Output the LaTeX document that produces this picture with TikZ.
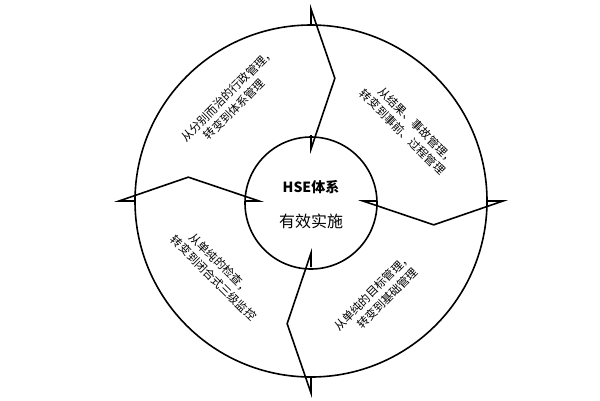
\documentclass[tikz,border=0pt]{standalone}
\usepackage{fontspec}
\newfontfamily\cjk{Noto Sans CJK SC}
\begin{document}
\begin{tikzpicture}[x=1pt,y=-1pt,line width=1.6pt,
  lab/.style={font=\cjk\fontsize{11.5}{15}\selectfont,align=left,inner sep=0pt}]
\useasboundingbox (0,0) rectangle (600,400);
\fill[white] (0,0) rectangle (600,400);
\coordinate (c) at (311,201);
\node[draw,circle,minimum size=352pt,inner sep=0pt] (outer) at (c) {};
\node[draw,circle,minimum size=132pt,inner sep=0pt] (inner) at (311,203) {};
\foreach \t in {90,180,270,0}{
  \draw ([shift={(\t:176)}]c) -- ([shift={(\t:192)}]c) -- ([shift={(\t+11:125)}]c)
        -- ([shift={(\t:52)}]c) -- ([shift={(\t:66)}]c);
}
\node[font=\cjk\bfseries\fontsize{14}{16}\selectfont] (t1) at (311,187) {HSE体系};
\node[font=\cjk\fontsize{16}{18}\selectfont] (t2) at (311,221) {有效实施};
\node[lab,rotate=45] (a) at (233,100) {从分别而治的行政管理，\\\hspace*{1.5em}转变到体系管理};
\node[lab,rotate=-45] (b) at (408,127) {\hspace*{1em}从结果、事故管理，\\转变到事前、过程管理};
\node[lab,rotate=-45] (d) at (219,273) {\hspace*{1em}从单纯的检查，\\转变到闭合式三级监控};
\node[lab,rotate=45] (e) at (378,297) {从单纯的目标管理，\\\hspace*{1.5em}转变到基础管理};
\end{tikzpicture}
\end{document}
